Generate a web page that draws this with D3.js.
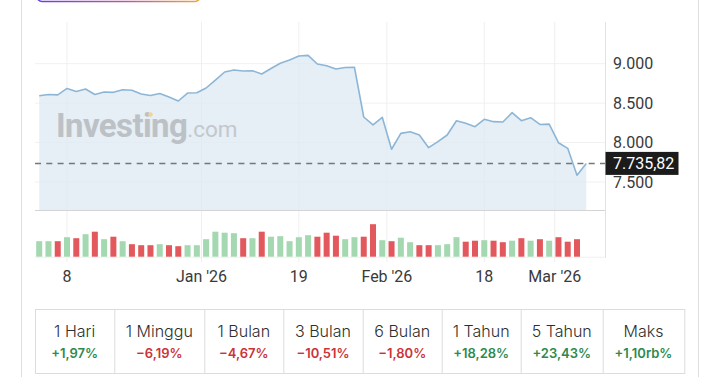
<!DOCTYPE html>
<html>
<head>
<meta charset="utf-8">
<script src="https://cdn.jsdelivr.net/npm/d3@7"></script>
<style>
  html, body { margin: 0; padding: 0; background: #fff; }
  svg { display: block; }
</style>
</head>
<body>
<div id="chart"></div>
<script>
// closing prices, one per trading day (Dec '25 – Mar '26)
const closes = [
  8594, 8610, 8605, 8686, 8648, 8679, 8610, 8641, 8637, 8670,
  8664, 8616, 8597, 8622, 8578, 8527, 8628, 8632, 8692, 8793,
  8895, 8920, 8907, 8911, 8869, 8939, 9005, 9047, 9098, 9106,
  8996, 8975, 8933, 8952, 8954, 8324, 8223, 8320, 7915, 8117,
  8138, 8096, 7935, 8011, 8096, 8277, 8244, 8201, 8295, 8265,
  8260, 8379, 8277, 8315, 8230, 8234, 7998, 7927, 7586, 7735.82
];
// daily volume (billion shares), last session has no bar yet
const volumes = [
  31, 31, 31, 39, 37, 45, 50, 35, 40, 31,
  25, 23, 23, 25, 23, 21, 23, 23, 35, 50,
  48, 47, 37, 37, 50, 40, 41, 31, 39, 43,
  40, 48, 42, 35, 39, 40, 65, 33, 31, 38,
  29, 23, 23, 23, 25, 39, 30, 32, 33, 32,
  29, 32, 37, 32, 35, 32, 39, 30, 35
];
const xTickLabels = ["8", "Jan '26", "19", "Feb '26", "18", "Mar '26"];
const xTickIndex = [3, 17.5, 28, 37.5, 48, 55.6];
const yTicks = [7500, 8000, 8500, 9000];

const periods = ["1 Hari", "1 Minggu", "1 Bulan", "3 Bulan", "6 Bulan", "1 Tahun", "5 Tahun", "Maks"];
const changes = [1.97, -6.19, -4.67, -10.51, -1.80, 18.28, 23.43, 1100];

const W = 720, H = 377;
const plotLeft = 35, plotRight = 605, plotTop = 22;
const priceBottom = 210, volBottom = 256.7;
const cellEdges = [35, 114.3, 204.3, 283.3, 362.7, 441.7, 520.7, 602.7, 684.3];

const idLocale = d3.formatLocale({ decimal: ",", thousands: ".", grouping: [3], currency: ["", ""] });
const fmtInt = idLocale.format(",.0f");
const fmtPrice = idLocale.format(",.2f");
const fmtPct = idLocale.format("+,.2f");

const svg = d3.select("#chart").append("svg").attr("width", W).attr("height", H);

// page frame
svg.append("line").attr("x1", 21.5).attr("x2", 21.5).attr("y1", 0).attr("y2", H).attr("stroke", "#dedede");
svg.append("line").attr("x1", 698.5).attr("x2", 698.5).attr("y1", 0).attr("y2", H).attr("stroke", "#dedede");

// cut-off button on top
const grad = svg.append("defs").append("linearGradient").attr("id", "btnGrad");
grad.append("stop").attr("offset", "0%").attr("stop-color", "#6b3ee6");
grad.append("stop").attr("offset", "55%").attr("stop-color", "#c0569e");
grad.append("stop").attr("offset", "100%").attr("stop-color", "#f2a43a");
svg.append("rect").attr("x", 37).attr("y", -14).attr("width", 163).attr("height", 15.5).attr("rx", 5)
  .attr("fill", "none").attr("stroke", "url(#btnGrad)").attr("stroke-width", 1.6);

const x = d3.scaleLinear().domain([0, 58]).range([39.2, 577]);
const yPrice = d3.scaleLinear().domain([7500, 9000]).range([182, 63.7]);
const yVol = d3.scaleLinear().domain([0, 70]).range([volBottom, volBottom - 35]);

// grid
svg.append("g").selectAll("line").data(yTicks).join("line")
  .attr("x1", plotLeft).attr("x2", plotRight)
  .attr("y1", d => yPrice(d)).attr("y2", d => yPrice(d))
  .attr("stroke", "#f1f1f1");
svg.append("g").selectAll("line").data(xTickIndex).join("line")
  .attr("x1", d => x(d)).attr("x2", d => x(d))
  .attr("y1", plotTop).attr("y2", 262)
  .attr("stroke", "#efefef");

// price area + line
const area = d3.area().x((d, i) => x(i)).y0(priceBottom).y1(d => yPrice(d));
const line = d3.line().x((d, i) => x(i)).y(d => yPrice(d));
svg.append("path").datum(closes).attr("d", area).attr("fill", "#dde8f3").attr("fill-opacity", 0.75);

// watermark
const wm = svg.append("text").attr("x", 56).attr("y", 137).attr("font-family", "Roboto, Arial, sans-serif");
wm.append("tspan").attr("font-size", 33).attr("font-weight", 700).attr("fill", "#bcc1c6").attr("letter-spacing", -0.6).text("Investing");
wm.append("tspan").attr("font-size", 22.5).attr("font-weight", 400).attr("fill", "#c3c8cc").text(".com");
svg.append("circle").attr("cx", 150.5).attr("cy", 114.5).attr("r", 2.2).attr("fill", "#f0d49a");

svg.append("path").datum(closes).attr("d", line).attr("fill", "none")
  .attr("stroke", "#8db6d6").attr("stroke-width", 1.6).attr("stroke-linejoin", "round");

// pane borders
svg.append("line").attr("x1", plotLeft).attr("x2", plotRight).attr("y1", priceBottom + 0.5).attr("y2", priceBottom + 0.5)
  .attr("stroke", "#d4d4d4").attr("stroke-width", 1.2);
svg.append("line").attr("x1", plotLeft).attr("x2", plotRight).attr("y1", volBottom + 0.5).attr("y2", volBottom + 0.5)
  .attr("stroke", "#f0f0f0");
svg.append("line").attr("x1", plotRight + 0.5).attr("x2", plotRight + 0.5).attr("y1", plotTop).attr("y2", volBottom + 1)
  .attr("stroke", "#e2e2e2");

// volume bars
svg.append("g").selectAll("rect").data(volumes).join("rect")
  .attr("x", (d, i) => x(i) - 3)
  .attr("width", 6)
  .attr("y", d => yVol(d))
  .attr("height", d => volBottom - yVol(d))
  .attr("fill", (d, i) => (i === 0 || closes[i] >= closes[i - 1]) ? "#a3d8b0" : "#e2585c");

// last price dashed line
const last = closes[closes.length - 1];
svg.append("line").attr("x1", plotLeft).attr("x2", plotRight)
  .attr("y1", yPrice(last)).attr("y2", yPrice(last))
  .attr("stroke", "#6f777f").attr("stroke-width", 1.5).attr("stroke-dasharray", "6,5.3");

// y axis labels
svg.append("g").selectAll("text").data(yTicks).join("text")
  .attr("x", 613).attr("y", d => yPrice(d)).attr("dy", "0.36em")
  .attr("font-family", "Roboto, Arial, sans-serif").attr("font-size", 16).attr("fill", "#3a3a3a")
  .text(d => fmtInt(d));

// last price badge
svg.append("rect").attr("x", 605.5).attr("y", yPrice(last) - 11.5).attr("width", 73).attr("height", 23)
  .attr("fill", "#1b1b1b");
svg.append("text").attr("x", 613).attr("y", yPrice(last)).attr("dy", "0.36em")
  .attr("font-family", "Roboto, Arial, sans-serif").attr("font-size", 16).attr("fill", "#fff")
  .text(fmtPrice(last));

// x axis labels
svg.append("g").selectAll("text").data(xTickLabels).join("text")
  .attr("x", (d, i) => x(xTickIndex[i])).attr("y", 281.5).attr("text-anchor", "middle")
  .attr("font-family", "Roboto, Arial, sans-serif").attr("font-size", 16).attr("fill", "#3a3a3a")
  .text(d => d);

// performance table
const table = svg.append("g");
table.append("rect").attr("x", cellEdges[0] + 0.5).attr("y", 309.5)
  .attr("width", cellEdges[8] - cellEdges[0]).attr("height", 64)
  .attr("fill", "none").attr("stroke", "#dcdcdc");
table.selectAll("line.div").data(cellEdges.slice(1, -1)).join("line")
  .attr("class", "div")
  .attr("x1", d => d + 0.5).attr("x2", d => d + 0.5).attr("y1", 309.5).attr("y2", 373.5)
  .attr("stroke", "#dcdcdc");

function fmtChange(v) {
  if (Math.abs(v) >= 1000) return (v > 0 ? "+" : "") + idLocale.format(",.2f")(v / 1000) + "rb%";
  return fmtPct(v) + "%";
}

periods.forEach((p, i) => {
  const cx = (cellEdges[i] + cellEdges[i + 1]) / 2;
  table.append("text").attr("x", cx).attr("y", 336.7).attr("text-anchor", "middle")
    .attr("font-family", "Inter, Roboto, sans-serif").attr("font-size", 16).attr("font-weight", 300)
    .attr("fill", "#2f2f2f").text(p);
  table.append("text").attr("x", cx).attr("y", 357.7).attr("text-anchor", "middle")
    .attr("font-family", "Inter, Roboto, sans-serif").attr("font-size", 13).attr("font-weight", 600)
    .attr("fill", changes[i] >= 0 ? "#2d8a4e" : "#cc3338").text(fmtChange(changes[i]));
});
</script>
</body>
</html>
